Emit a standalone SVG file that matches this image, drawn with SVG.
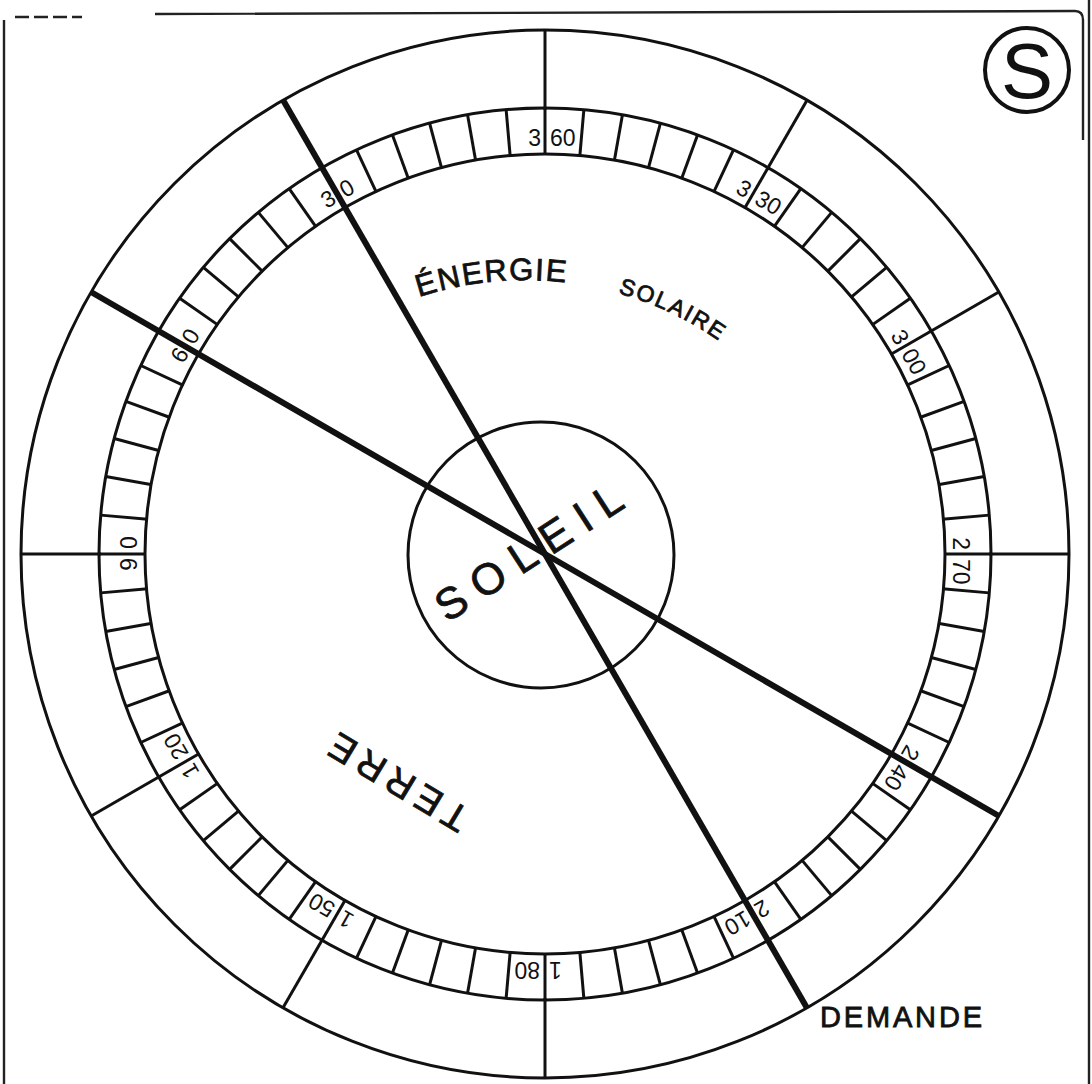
<svg xmlns="http://www.w3.org/2000/svg" xmlns:xlink="http://www.w3.org/1999/xlink" width="1092" height="1084" viewBox="0 0 1092 1084">
<style>
.thin{stroke:#111;stroke-width:3;fill:none}
.thick{stroke:#111;stroke-width:6;fill:none}
.frame{stroke:#222;stroke-width:2.4;fill:none}
.lbl{font-family:"Liberation Sans",Arial,sans-serif;font-size:23px;fill:#111}
.hand{font-family:"Liberation Sans",Arial,sans-serif;fill:#111;stroke:#111;stroke-width:0.8}
</style>
<defs>
<line id="tk" x1="545" y1="108" x2="545" y2="155"/>
<line id="sp" x1="545" y1="30" x2="545" y2="110"/>
<path id="arc" d="M 355 325.6 A 340 340 0 0 1 819.4 450"/>
</defs>
<rect width="1092" height="1084" fill="#fff"/>
<g id="frame" class="frame">
<line x1="4" y1="20" x2="4" y2="1084"/>
<line x1="15" y1="17" x2="82" y2="17" stroke-dasharray="14 5"/>
<path d="M 155 14 L 1075 11 Q 1083 11 1083 20 L 1083 140"/>
<line x1="1089" y1="0" x2="1089" y2="1084"/>
</g>
<g id="dial">
<circle class="thin" cx="545" cy="554" r="524"/>
<circle class="thin" cx="545" cy="554" r="446"/>
<circle class="thin" cx="545" cy="554" r="400"/>
</g>
<g id="spokes" class="thin">
<use href="#sp"/>
<use href="#sp" transform="rotate(30 545 554)"/>
<use href="#sp" transform="rotate(60 545 554)"/>
<use href="#sp" transform="rotate(90 545 554)"/>
<use href="#sp" transform="rotate(120 545 554)"/>
<use href="#sp" transform="rotate(150 545 554)"/>
<use href="#sp" transform="rotate(180 545 554)"/>
<use href="#sp" transform="rotate(210 545 554)"/>
<use href="#sp" transform="rotate(240 545 554)"/>
<use href="#sp" transform="rotate(270 545 554)"/>
<use href="#sp" transform="rotate(300 545 554)"/>
<use href="#sp" transform="rotate(330 545 554)"/>
</g>
<g id="ticks" class="thin">
<use href="#tk"/>
<use href="#tk" transform="rotate(5 545 554)"/>
<use href="#tk" transform="rotate(10 545 554)"/>
<use href="#tk" transform="rotate(15 545 554)"/>
<use href="#tk" transform="rotate(20 545 554)"/>
<use href="#tk" transform="rotate(25 545 554)"/>
<use href="#tk" transform="rotate(30 545 554)"/>
<use href="#tk" transform="rotate(35 545 554)"/>
<use href="#tk" transform="rotate(40 545 554)"/>
<use href="#tk" transform="rotate(45 545 554)"/>
<use href="#tk" transform="rotate(50 545 554)"/>
<use href="#tk" transform="rotate(55 545 554)"/>
<use href="#tk" transform="rotate(60 545 554)"/>
<use href="#tk" transform="rotate(65 545 554)"/>
<use href="#tk" transform="rotate(70 545 554)"/>
<use href="#tk" transform="rotate(75 545 554)"/>
<use href="#tk" transform="rotate(80 545 554)"/>
<use href="#tk" transform="rotate(85 545 554)"/>
<use href="#tk" transform="rotate(90 545 554)"/>
<use href="#tk" transform="rotate(95 545 554)"/>
<use href="#tk" transform="rotate(100 545 554)"/>
<use href="#tk" transform="rotate(105 545 554)"/>
<use href="#tk" transform="rotate(110 545 554)"/>
<use href="#tk" transform="rotate(115 545 554)"/>
<use href="#tk" transform="rotate(120 545 554)"/>
<use href="#tk" transform="rotate(125 545 554)"/>
<use href="#tk" transform="rotate(130 545 554)"/>
<use href="#tk" transform="rotate(135 545 554)"/>
<use href="#tk" transform="rotate(140 545 554)"/>
<use href="#tk" transform="rotate(145 545 554)"/>
<use href="#tk" transform="rotate(150 545 554)"/>
<use href="#tk" transform="rotate(155 545 554)"/>
<use href="#tk" transform="rotate(160 545 554)"/>
<use href="#tk" transform="rotate(165 545 554)"/>
<use href="#tk" transform="rotate(170 545 554)"/>
<use href="#tk" transform="rotate(175 545 554)"/>
<use href="#tk" transform="rotate(180 545 554)"/>
<use href="#tk" transform="rotate(185 545 554)"/>
<use href="#tk" transform="rotate(190 545 554)"/>
<use href="#tk" transform="rotate(195 545 554)"/>
<use href="#tk" transform="rotate(200 545 554)"/>
<use href="#tk" transform="rotate(205 545 554)"/>
<use href="#tk" transform="rotate(210 545 554)"/>
<use href="#tk" transform="rotate(215 545 554)"/>
<use href="#tk" transform="rotate(220 545 554)"/>
<use href="#tk" transform="rotate(225 545 554)"/>
<use href="#tk" transform="rotate(230 545 554)"/>
<use href="#tk" transform="rotate(235 545 554)"/>
<use href="#tk" transform="rotate(240 545 554)"/>
<use href="#tk" transform="rotate(245 545 554)"/>
<use href="#tk" transform="rotate(250 545 554)"/>
<use href="#tk" transform="rotate(255 545 554)"/>
<use href="#tk" transform="rotate(260 545 554)"/>
<use href="#tk" transform="rotate(265 545 554)"/>
<use href="#tk" transform="rotate(270 545 554)"/>
<use href="#tk" transform="rotate(275 545 554)"/>
<use href="#tk" transform="rotate(280 545 554)"/>
<use href="#tk" transform="rotate(285 545 554)"/>
<use href="#tk" transform="rotate(290 545 554)"/>
<use href="#tk" transform="rotate(295 545 554)"/>
<use href="#tk" transform="rotate(300 545 554)"/>
<use href="#tk" transform="rotate(305 545 554)"/>
<use href="#tk" transform="rotate(310 545 554)"/>
<use href="#tk" transform="rotate(315 545 554)"/>
<use href="#tk" transform="rotate(320 545 554)"/>
<use href="#tk" transform="rotate(325 545 554)"/>
<use href="#tk" transform="rotate(330 545 554)"/>
<use href="#tk" transform="rotate(335 545 554)"/>
<use href="#tk" transform="rotate(340 545 554)"/>
<use href="#tk" transform="rotate(345 545 554)"/>
<use href="#tk" transform="rotate(350 545 554)"/>
<use href="#tk" transform="rotate(355 545 554)"/>
</g>
<g id="labels" class="lbl">
<text y="146"><tspan x="541" text-anchor="end">3</tspan><tspan x="550" text-anchor="start">60</tspan></text>
<text y="146" transform="rotate(-30 545 554)"><tspan x="541" text-anchor="end">3</tspan><tspan x="550" text-anchor="start">0</tspan></text>
<text y="146" transform="rotate(-60 545 554)"><tspan x="541" text-anchor="end">6</tspan><tspan x="550" text-anchor="start">0</tspan></text>
<text y="146" transform="rotate(-90 545 554)"><tspan x="541" text-anchor="end">9</tspan><tspan x="550" text-anchor="start">0</tspan></text>
<text y="146" transform="rotate(-120 545 554)"><tspan x="541" text-anchor="end">1</tspan><tspan x="550" text-anchor="start">20</tspan></text>
<text y="146" transform="rotate(-150 545 554)"><tspan x="541" text-anchor="end">1</tspan><tspan x="550" text-anchor="start">50</tspan></text>
<text y="146" transform="rotate(-180 545 554)"><tspan x="541" text-anchor="end">1</tspan><tspan x="550" text-anchor="start">80</tspan></text>
<text y="146" transform="rotate(-210 545 554)"><tspan x="541" text-anchor="end">2</tspan><tspan x="550" text-anchor="start">10</tspan></text>
<text y="146" transform="rotate(-240 545 554)"><tspan x="541" text-anchor="end">2</tspan><tspan x="550" text-anchor="start">40</tspan></text>
<text y="146" transform="rotate(-270 545 554)"><tspan x="541" text-anchor="end">2</tspan><tspan x="550" text-anchor="start">70</tspan></text>
<text y="146" transform="rotate(-300 545 554)"><tspan x="541" text-anchor="end">3</tspan><tspan x="550" text-anchor="start">00</tspan></text>
<text y="146" transform="rotate(-330 545 554)"><tspan x="541" text-anchor="end">3</tspan><tspan x="550" text-anchor="start">30</tspan></text>
</g>
<g id="soleil">
<circle class="thin" cx="541" cy="555" r="133"/>
<text class="hand" font-size="44" text-anchor="middle" transform="translate(537 565) rotate(-33)" textLength="214" lengthAdjust="spacing">SOLEIL</text>
</g>
<g id="connectors" class="thick">
<line x1="283" y1="100" x2="807" y2="1008"/>
<line x1="91" y1="292" x2="999" y2="816"/>
</g>
<g id="energie">
<text class="hand"><textPath href="#arc" startOffset="70"><tspan font-size="31" letter-spacing="1.5">ÉNERGIE</tspan></textPath></text>
<text class="hand"><textPath href="#arc" startOffset="272"><tspan font-size="23" letter-spacing="2">SOLAIRE</tspan></textPath></text>
</g>
<g id="terre">
<text class="hand" font-size="38" text-anchor="middle" y="14" transform="translate(398 783) rotate(211)" textLength="155" lengthAdjust="spacing">TERRE</text>
</g>
<g id="demande">
<text class="hand" font-size="29" x="820" y="1027" textLength="162" lengthAdjust="spacing">DEMANDE</text>
</g>
<g id="s-badge">
<circle cx="1027" cy="70" r="42" fill="none" stroke="#111" stroke-width="4"/>
<text font-family="Liberation Sans, Arial, sans-serif" fill="#111" font-size="78" text-anchor="middle" x="1027" y="98">S</text>
</g>
</svg>
